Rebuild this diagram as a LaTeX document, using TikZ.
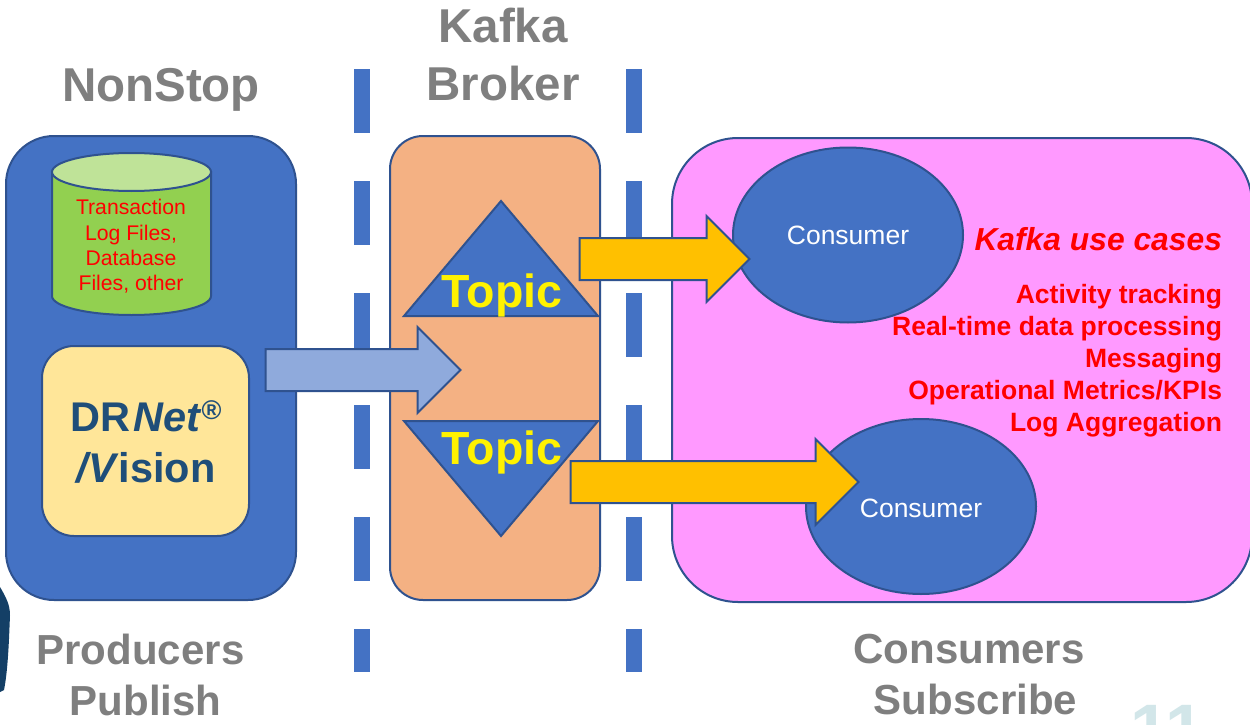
\documentclass[tikz,border=0pt]{standalone}
\usepackage{fontspec}
\setmainfont{Liberation Sans}
\usepackage{xcolor}
\usetikzlibrary{shapes.geometric, shapes.arrows}
\definecolor{boxblue}{HTML}{4472C4}
\definecolor{edgeblue}{HTML}{2F528F}
\definecolor{titlegray}{HTML}{7F7F7F}
\definecolor{brokerfill}{HTML}{F4B183}
\definecolor{pinkfill}{HTML}{FF99FF}
\definecolor{amberfill}{HTML}{FFC000}
\definecolor{paleblue}{HTML}{8FAADC}
\definecolor{creamfill}{HTML}{FFE699}
\definecolor{navytext}{HTML}{1F4E79}
\definecolor{pagegray}{HTML}{D2E6E9}
\definecolor{storebody}{HTML}{92D050}
\definecolor{storetop}{HTML}{BFE398}
\definecolor{logoblue}{HTML}{143F66}

\begin{document}
\begin{tikzpicture}[x=1pt, y=-1pt, line width=2pt, every node/.style={inner sep=0pt, outer sep=0pt}]
  \tikzstyle{title} = [text=titlegray, align=center, font=\fontsize{47.5}{58}\selectfont\bfseries]
  \tikzstyle{lowtitle} = [text=titlegray, align=center, font=\fontsize{42}{51}\selectfont\bfseries]
  \tikzstyle{panel} = [rectangle, draw=edgeblue]
  \tikzstyle{consumer} = [ellipse, draw=edgeblue, fill=boxblue, minimum width=230pt, minimum height=175pt]
  \tikzstyle{consumertext} = [text=white, font=\fontsize{26.5}{30}\selectfont]
  \tikzstyle{topictext} = [text=yellow, font=\fontsize{46.5}{50}\selectfont\bfseries]
  \tikzstyle{blockarrow} = [single arrow, draw=edgeblue, minimum width=84pt, single arrow head extend=22pt, single arrow tip angle=90]
  \tikzstyle{slot} = [fill=boxblue, draw=none]

  \clip (0,0) rectangle (1250,725);
  \fill[white] (0,0) rectangle (1250,725);

  % dashed dividers
  \foreach \xpos in {354,626} {
    \foreach \ypos in {69,181,293,405,517} {
      \path[slot] (\xpos,\ypos) rectangle ++(16,64);
    }
    \path[slot] (\xpos,629) rectangle ++(16,43);
  }

  \node (nonstop) [title] at (161,90) {NonStop};
  \node (kafka) [title] at (503,55) {Kafka\\Broker};
  \node (producers) [lowtitle] at (140.5,675) {Producers\\\hspace*{10pt}Publish};
  \node (consumers) [lowtitle] at (969,675) {Consumers\\\hspace*{13pt}Subscribe};
  \node (pagenum) [text=pagegray, font=\fontsize{70}{72}\selectfont\bfseries, anchor=base] at (1167,753) {11};

  % logo edge
  \fill[logoblue] (0,587) .. controls (6,597) and (10,605) .. (10,615) .. controls (9,640) and (8,670) .. (4,690) -- (0,692) -- cycle;

  % panels
  \node (producer) [panel, fill=boxblue, rounded corners=48pt, minimum width=290pt, minimum height=464pt] at (151,368) {};
  \node (broker) [panel, fill=brokerfill, rounded corners=33pt, minimum width=210pt, minimum height=464pt] at (495,368) {};
  \node (subscriber) [panel, fill=pinkfill, rounded corners=66pt, minimum width=580pt, minimum height=464pt] at (962,370) {};

  % log store
  \filldraw[draw=edgeblue, fill=storebody] (52,172) -- (52,296) arc[start angle=180, end angle=360, x radius=79.5pt, y radius=19pt] -- (211,172) -- cycle;
  \filldraw[draw=edgeblue, fill=storetop] (131.5,172) ellipse[x radius=79.5pt, y radius=19pt];
  \node (storetext) [text=red, align=center, font=\fontsize{21.2}{25.4}\selectfont] at (131,246.5) {Transaction\\Log Files,\\Database\\Files, other};

  % replicator
  \node (drnet) [panel, fill=creamfill, rounded corners=32pt, minimum width=207pt, minimum height=190pt] at (145.5,441) {};
  \node (drnettext) [text=navytext, align=center, font=\fontsize{41.5}{51}\selectfont\bfseries] at (146,442) {DR\hspace{3pt}\textit{Net}\raisebox{12pt}{\fontsize{27}{27}\selectfont ®}\\\textit{/V}ision};

  % topics
  \filldraw[draw=edgeblue, fill=boxblue] (501,201) -- (598,316) -- (404,316) -- cycle;
  \filldraw[draw=edgeblue, fill=boxblue] (404,421) -- (598,421) -- (501,536) -- cycle;
  \node (topicup) [topictext] at (502,295) {Topic};
  \node (topicdown) [topictext] at (502,452) {Topic};

  % consumers
  \node (consumerup) [consumer] at (848,235) {};
  \node (consumerdown) [consumer] at (921,506.5) {};
  \node (consumeruptext) [consumertext] at (848,235) {Consumer};
  \node (consumerdowntext) [consumertext] at (921,508) {Consumer};

  % flow arrows
  \node (publish) [blockarrow, fill=paleblue, minimum height=195pt] at (352.5,370) {\rule{0pt}{40pt}};
  \node (deliverup) [blockarrow, fill=amberfill, minimum height=170pt] at (654,259) {\rule{0pt}{40pt}};
  \node (deliverdown) [blockarrow, fill=amberfill, minimum height=288pt] at (704,482) {\rule{0pt}{40pt}};

  % use cases
  \node (usecases) [text=red, anchor=base east, font=\fontsize{31.8}{34}\selectfont\bfseries\itshape] at (1222,250) {Kafka use cases};
  \node (caselist) [text=red, align=right, anchor=east, font=\fontsize{26.5}{32}\selectfont\bfseries] at (1222,361) {Activity tracking\\Real-time data processing\\Messaging\\Operational Metrics/KPIs\\Log Aggregation};
\end{tikzpicture}
\end{document}
